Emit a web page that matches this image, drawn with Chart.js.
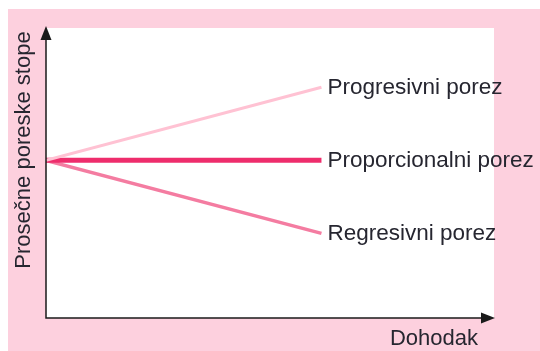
<!DOCTYPE html>
<html>
<head>
<meta charset="utf-8">
<script src="https://cdn.jsdelivr.net/npm/chart.js@4"></script>
<style>
  html, body { margin: 0; padding: 0; background: #fff; }
  #wrap { width: 540px; height: 351px; position: relative; }
</style>
</head>
<body>
<div id="wrap"><canvas id="taxChart" width="540" height="351"></canvas></div>
<script>
    // Podaci
    var incomeLevels = [0, 10];
    var progressiveRate = [54, 79];
    var proportionalRate = [54, 54];
    var regressiveRate = [54, 29];
    var seriesLabels = ['Progresivni porez', 'Proporcionalni porez', 'Regresivni porez'];
    var xAxisTitle = 'Dohodak';
    var yAxisTitle = 'Prosečne poreske stope';

    var PINK_BG = '#fdd0de';
    var TEXT = '#262630';
    var FONT = '"Liberation Sans", Arial, sans-serif';

    function toPoints(values) {
        return incomeLevels.map(function (x, i) { return { x: x, y: values[i] }; });
    }

    // Pozadina, ose sa strelicama, natpisi
    var decorPlugin = {
        id: 'decor',
        beforeDraw: function (chart) {
            var ctx = chart.ctx;
            var area = chart.chartArea;
            ctx.save();
            ctx.fillStyle = '#ffffff';
            ctx.fillRect(0, 0, chart.width, chart.height);
            ctx.fillStyle = PINK_BG;
            ctx.fillRect(8, 9, chart.width - 8, chart.height - 9);
            ctx.fillStyle = '#ffffff';
            ctx.fillRect(area.left, 28, 494 - area.left, area.bottom - 28);
            ctx.restore();
        },
        afterDraw: function (chart) {
            var ctx = chart.ctx;
            var area = chart.chartArea;
            ctx.save();
            ctx.strokeStyle = '#1a1a1a';
            ctx.fillStyle = '#1a1a1a';
            ctx.lineWidth = 1.5;
            ctx.beginPath();
            ctx.moveTo(area.left, area.top + 10);
            ctx.lineTo(area.left, area.bottom);
            ctx.lineTo(area.right - 10, area.bottom);
            ctx.stroke();
            // strelica gore
            ctx.beginPath();
            ctx.moveTo(area.left, area.top);
            ctx.lineTo(area.left - 5.5, area.top + 14);
            ctx.lineTo(area.left + 5.5, area.top + 14);
            ctx.closePath();
            ctx.fill();
            // strelica desno
            ctx.beginPath();
            ctx.moveTo(area.right, area.bottom);
            ctx.lineTo(area.right - 14, area.bottom - 5.5);
            ctx.lineTo(area.right - 14, area.bottom + 5.5);
            ctx.closePath();
            ctx.fill();

            ctx.fillStyle = TEXT;
            ctx.font = '22px ' + FONT;
            ctx.textBaseline = 'middle';
            ctx.textAlign = 'right';
            ctx.fillText(xAxisTitle, 478, 339);

            ctx.save();
            ctx.translate(24, 150);
            ctx.rotate(-Math.PI / 2);
            ctx.textAlign = 'center';
            ctx.fillText(yAxisTitle, 0, 0);
            ctx.restore();

            // natpisi na kraju linija
            ctx.font = '22.5px ' + FONT;
            ctx.textAlign = 'left';
            chart.data.datasets.forEach(function (ds, i) {
                var meta = chart.getDatasetMeta(i);
                var last = meta.data[meta.data.length - 1];
                ctx.fillText(seriesLabels[i], last.x + 6, last.y);
            });
            ctx.restore();
        }
    };

    new Chart(document.getElementById('taxChart').getContext('2d'), {
        type: 'line',
        data: {
            datasets: [
                {
                    label: seriesLabels[0],
                    data: toPoints(progressiveRate),
                    borderColor: '#ffc2d3',
                    borderWidth: 3,
                    pointRadius: 0
                },
                {
                    label: seriesLabels[1],
                    data: toPoints(proportionalRate),
                    borderColor: '#ee2d6c',
                    borderWidth: 5,
                    pointRadius: 0
                },
                {
                    label: seriesLabels[2],
                    data: toPoints(regressiveRate),
                    borderColor: '#f47ca1',
                    borderWidth: 3.5,
                    pointRadius: 0
                }
            ]
        },
        options: {
            responsive: false,
            animation: false,
            layout: {
                padding: { left: 46, right: 45, top: 26, bottom: 33 }
            },
            plugins: {
                legend: { display: false },
                title: { display: false },
                tooltip: { enabled: false }
            },
            scales: {
                x: { type: 'linear', min: 0, max: 16.3, display: false },
                y: { min: 0, max: 100, display: false }
            }
        },
        plugins: [decorPlugin]
    });
</script>
</body>
</html>
